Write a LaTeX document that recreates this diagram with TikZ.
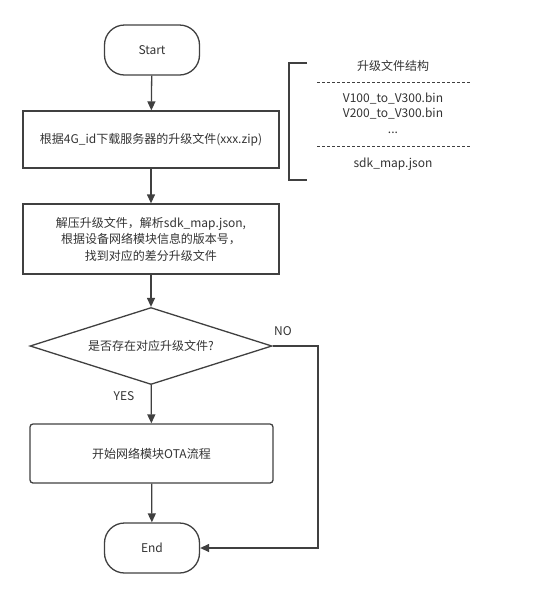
\documentclass[tikz,border=0pt]{standalone}
\usepackage{fontspec}
\setmainfont{Noto Sans CJK SC}
\usetikzlibrary{arrows.meta,shapes.geometric}
\definecolor{linegray}{HTML}{404040}
\definecolor{textgray}{HTML}{333333}

\begin{document}
\begin{tikzpicture}[x=1pt,y=-1pt,font=\fontsize{12}{16.5}\selectfont,text=textgray]
		\useasboundingbox (0,0) rectangle (549,598);
		\begin{scope}[every node/.style={draw=linegray,line width=1.3pt,align=center,inner sep=0pt}]
			\node[rounded corners=20pt,minimum width=95pt,minimum height=50pt] (start) at (152,50) {Start};
			\node[minimum width=256pt,minimum height=57pt] (download) at (151,139.5) {根据4G\_id下载服务器的升级文件(xxx.zip)};
			\node[minimum width=256pt,minimum height=70pt] (unzip) at (151,239) {解压升级文件，解析sdk\_map.json,\\根据设备网络模块信息的版本号，\\找到对应的差分升级文件};
			\node[diamond,aspect=3.14,minimum width=242pt,minimum height=77pt] (check) at (151,346) {是否存在对应升级文件?};
			\node[rounded corners=3pt,minimum width=243pt,minimum height=59pt] (ota) at (151.5,453.5) {开始网络模块OTA流程};
			\node[rounded corners=20pt,minimum width=95pt,minimum height=50pt] (end) at (152,548) {End};
		\end{scope}
		\coordinate (nocorner) at (318,346);
		\begin{scope}[>={Triangle[length=9pt,width=8pt]},
			every edge/.style={draw=linegray,line width=1.3pt}]
			\path [->] (start) edge (download);
			\path [->] (download) edge (unzip);
			\path [->] (unzip) edge (check);
			\path [->] (check) edge (ota);
			\path [->] (ota) edge (end);
			\draw [->,draw=linegray,line width=1.3pt] (check.east) -- (nocorner) |- (end.east);
		\end{scope}
		\node (no) at (283,331) {NO};
		\node (yes) at (124,396) {YES};
		% upgrade package layout
		\draw[linegray,line width=1.3pt] (307,63) -- (289,63) -- (289,180) -- (307,180);
		\node (title) at (393,66) {升级文件结构};
		\node[align=center,font=\fontsize{12}{15.5}\selectfont] (bins) at (393,113) {V100\_to\_V300.bin\\V200\_to\_V300.bin\\...};
		\node (json) at (393,164) {sdk\_map.json};
		\draw[linegray,dash pattern=on 3pt off 2pt] (317,82) -- (471,82);
		\draw[linegray,dash pattern=on 3pt off 2pt] (317,146) -- (471,146);
	\end{tikzpicture}
\end{document}
